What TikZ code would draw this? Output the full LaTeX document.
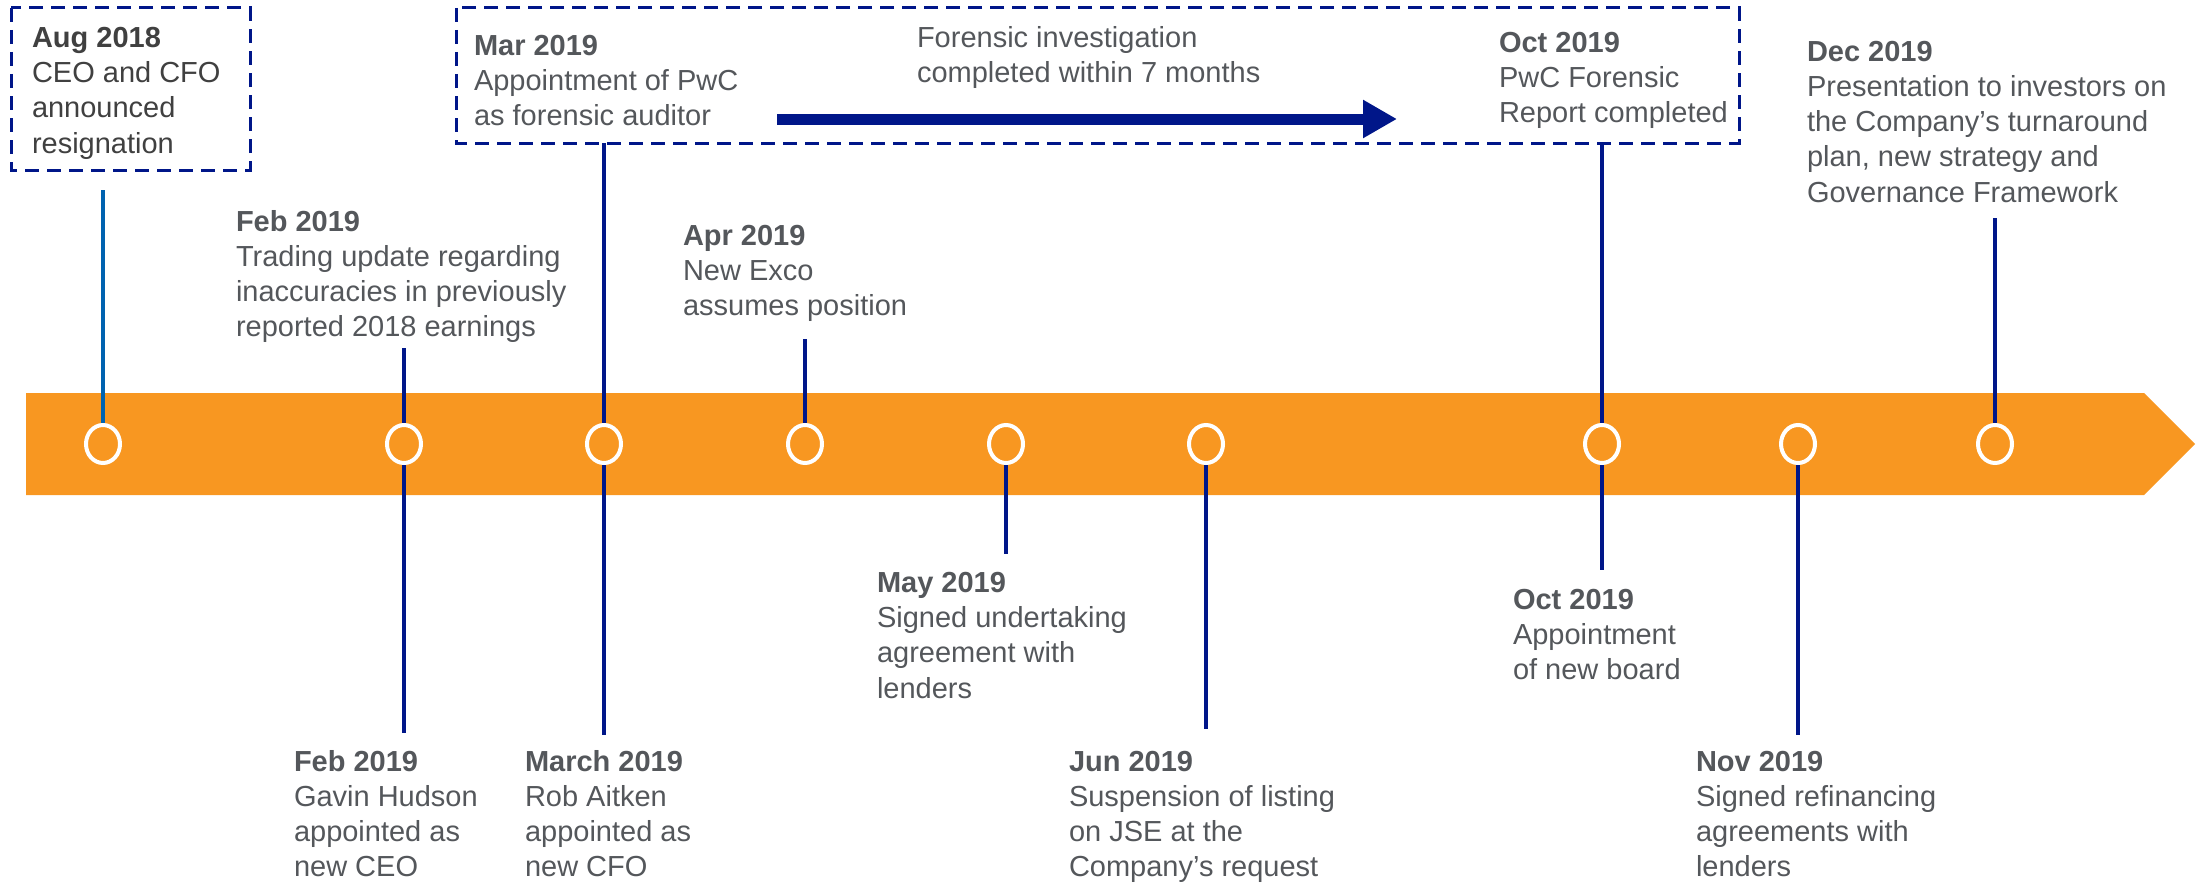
\documentclass[tikz,border=0pt]{standalone}
\usepackage{fontspec}
\setmainfont{Liberation Sans}
\usetikzlibrary{shapes.geometric,arrows.meta}
\definecolor{orng}{RGB}{248,151,33}
\definecolor{navy}{RGB}{0,22,137}
\definecolor{midblue}{RGB}{0,99,176}
\definecolor{txt}{RGB}{84,87,91}
\definecolor{txtdark}{RGB}{64,64,64}
\tikzset{
 lbl/.style={anchor=base west, inner sep=0pt, outer sep=0pt, align=left, text=txt, font=\fontsize{29}{35.3}\selectfont},
 dot/.style={ellipse, draw=white, line width=4pt, minimum width=34pt, minimum height=38pt, inner sep=0pt},
 stem/.style={draw=navy, line width=4pt},
 dbox/.style={draw=navy, line width=3pt, dash pattern=on 14pt off 8pt},
 bigarrow/.style={draw=navy, line width=11pt, -{Triangle[length=34pt,width=36pt]}},
}
\begin{document}
\begin{tikzpicture}[x=1pt,y=-1pt]
\useasboundingbox (0,0) rectangle (2203,883);
% timeline bar
\fill[orng] (26,393) -- (2144,393) -- (2195,444) -- (2144,495) -- (26,495) -- cycle;
\foreach \n/\x in {1/103,2/404,3/604,4/805,5/1006,6/1206,7/1602,8/1798,9/1995}
  \node[dot] (c\n) at (\x,444) {};
% dashed boxes
\draw[dbox] (11,8) rectangle (250,170);
\draw[dbox] (456,8) rectangle (1739,143);
% texts (anchored at the baseline of the last line)
\node[lbl, text=txtdark] (aug) at (32,153) {\textbf{Aug 2018}\\CEO and CFO\\announced\\resignation};
\node[lbl] (mar) at (474,125.6) {\textbf{Mar 2019}\\Appointment of PwC\\as forensic auditor};
\node[lbl] (inv) at (917,82.3) {Forensic investigation\\completed within 7 months};
\node[lbl] (octt) at (1499,122.6) {\textbf{Oct 2019}\\PwC Forensic\\Report completed};
\node[lbl] (dec) at (1807,202.2) {\textbf{Dec 2019}\\Presentation to investors on\\the Company’s turnaround\\plan, new strategy and\\Governance Framework};
\node[lbl] (febt) at (236,336.9) {\textbf{Feb 2019}\\Trading update regarding\\inaccuracies in previously\\reported 2018 earnings};
\node[lbl] (apr) at (683,315.6) {\textbf{Apr 2019}\\New Exco\\assumes position};
\node[lbl] (febb) at (294,876.9) {\textbf{Feb 2019}\\Gavin Hudson\\appointed as\\new CEO};
\node[lbl] (marb) at (525,876.9) {\textbf{March 2019}\\Rob Aitken\\appointed as\\new CFO};
\node[lbl] (may) at (877,698) {\textbf{May 2019}\\Signed undertaking\\agreement with\\lenders};
\node[lbl] (jun) at (1069,876.9) {\textbf{Jun 2019}\\Suspension of listing\\on JSE at the\\Company’s request};
\node[lbl] (octb) at (1513,679.6) {\textbf{Oct 2019}\\Appointment\\of new board};
\node[lbl] (nov) at (1696,876.9) {\textbf{Nov 2019}\\Signed refinancing\\agreements with\\lenders};
% forensic arrow
\coordinate (a0) at (777,119);
\coordinate (a1) at (1397,119);
\draw[bigarrow] (a0) -- (a1);
% stem end points
\coordinate (e1) at (103,190);
\coordinate (e2t) at (404,348);
\coordinate (e2b) at (404,733);
\coordinate (e3t) at (604,143);
\coordinate (e3b) at (604,735);
\coordinate (e4) at (805,339);
\coordinate (e5) at (1006,554);
\coordinate (e6) at (1206,729);
\coordinate (e7t) at (1602,143);
\coordinate (e7b) at (1602,570);
\coordinate (e8) at (1798,735);
\coordinate (e9) at (1995,218);
% stems
\draw[stem, draw=midblue] (e1) -- (c1.north);
\draw[stem] (e2t) -- (c2.north);
\draw[stem] (c2.south) -- (e2b);
\draw[stem] (e3t) -- (c3.north);
\draw[stem] (c3.south) -- (e3b);
\draw[stem] (e4) -- (c4.north);
\draw[stem] (c5.south) -- (e5);
\draw[stem] (c6.south) -- (e6);
\draw[stem] (e7t) -- (c7.north);
\draw[stem] (c7.south) -- (e7b);
\draw[stem] (c8.south) -- (e8);
\draw[stem] (e9) -- (c9.north);
\end{tikzpicture}
\end{document}
